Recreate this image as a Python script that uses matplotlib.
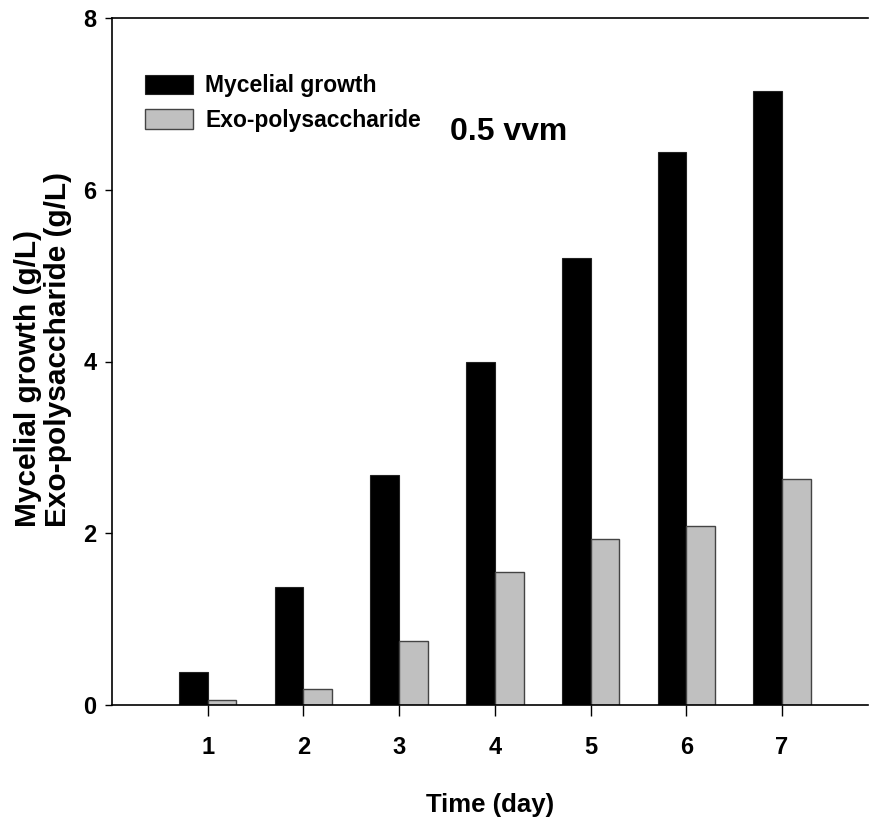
import matplotlib
matplotlib.use("Agg")
import matplotlib.pyplot as plt
import numpy as np

days = [1, 2, 3, 4, 5, 6, 7]
mycelial = [0.38, 1.37, 2.68, 4.00, 5.21, 6.44, 7.15]
exo = [0.06, 0.19, 0.75, 1.55, 1.93, 2.08, 2.63]
series_names = ["Mycelial growth", "Exo-polysaccharide"]

plt.rcParams["font.family"] = ["Liberation Sans", "DejaVu Sans"]
plt.rcParams["font.weight"] = "bold"

fig = plt.figure(figsize=(8.69, 8.26), dpi=100)
ax = fig.add_axes([112 / 869, 1 - 705 / 826, 1 - 112 / 869 - 0.001, (705 - 18) / 826])

x = np.array(days)
w = 0.3
ax.bar(x - w / 2, mycelial, w, color="black", edgecolor="#222222", linewidth=0.8, label=series_names[0])
ax.bar(x + w / 2, exo, w, color="#c0c0c0", edgecolor="#444444", linewidth=1.0, label=series_names[1])

ax.set_xlim(0, 7.9)
ax.set_ylim(0, 8)
ax.set_xticks(days)
ax.set_yticks([0, 2, 4, 6, 8])
ax.spines["right"].set_visible(False)
for s in ["left", "bottom", "top"]:
    ax.spines[s].set_linewidth(1.2)
ax.tick_params(axis="x", direction="out", length=8, width=1, pad=14, labelsize=17)
ax.tick_params(axis="y", direction="out", length=5, width=1, pad=6, labelsize=17)

ax.set_xlabel("Time (day)", fontsize=18.5, fontweight="bold", labelpad=25)

fig.text(43 / 869, 1 - 527 / 826, "Mycelial growth (g/L)\nExo-polysaccharide (g/L)",
         rotation=90, ha="center", va="bottom", fontsize=21.5, fontweight="bold",
         multialignment="left", linespacing=1.1)

ax.text(3.53, 6.58, "0.5 vvm", fontsize=23, fontweight="bold",
        ha="left", va="baseline")

leg = ax.legend(loc="upper left", bbox_to_anchor=(0.0436, 0.918), frameon=False,
                prop={"weight": "bold", "size": 16.5},
                handlelength=2.1, handleheight=0.92, handletextpad=0.52,
                labelspacing=0.5, borderpad=0, borderaxespad=0)

fig.savefig("out.png", dpi=100)
